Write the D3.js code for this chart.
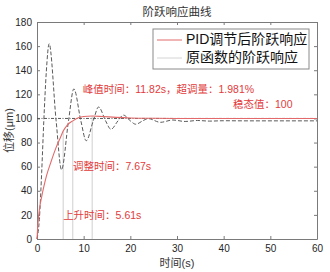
<!DOCTYPE html>
<html>
<head>
<meta charset="utf-8">
<script src="https://cdn.jsdelivr.net/npm/d3@7"></script>
<style>
  body { margin: 0; background: #fff; }
  text { font-family: "Liberation Sans", "Noto Sans CJK SC", sans-serif; }
</style>
</head>
<body>
<div id="container"></div>
<script>
const width = 330,
  height = 272,
  margin = { top: 22, bottom: 33, left: 37, right: 13 };

/** -------------- DATA -------------- */

// PID-tuned step response (red)
const pidTime  = [0, 0.15, 0.5, 1, 1.5, 2, 3, 4, 5, 5.61, 6.5, 7.67, 9, 10, 11.82, 14, 17, 20, 25, 30, 60];
const pidValue = [0, 10, 24, 35, 44, 52, 64, 75, 84, 89.5, 94.5, 98, 100.8, 101.6, 101.98, 101.6, 100.9, 100.4, 100.1, 100, 100];

// original step response (grey dashed)
const rawTime  = [0, 0.5, 1, 1.46, 2, 2.6, 4.1, 5.25, 6.75, 7.9, 9.4, 10.55, 12.05, 13.2, 14.7, 15.85,
                  17.35, 18.5, 20, 21.15, 22.65, 23.8, 26.45, 29.1, 31.75, 34.4, 37, 40, 45, 60];
const rawValue = [0, 16, 55, 98, 139, 162, 98, 57.5, 98, 124.5, 98, 81.5, 98, 109.5, 98, 91,
                  98, 102.8, 98, 95.2, 98, 99.9, 96.8, 98.7, 97.5, 98.3, 97.8, 98.1, 98, 98];

const steadyValue = 100;

// markers: rise time, settling time, peak time
const markTime  = [5.61, 7.67, 11.82];
const markValue = [89.5, 98, 101.98];

const xTicks = [0, 10, 20, 30, 40, 50, 60];
const yTicks = [0, 20, 40, 60, 80, 100, 120, 140, 160, 180];

const legendLabels = ["PID调节后阶跃响应", "原函数的阶跃响应"];
const notes = [
  { text: "峰值时间：11.82s，超调量：1.981%", t: 9.8, v: 123 },
  { text: "稳态值：100", t: 42, v: 111 },
  { text: "调整时间：7.67s", t: 7.7, v: 59.5 },
  { text: "上升时间：5.61s", t: 5.6, v: 19 }
];

/** -------------- SCALES -------------- */

const x = d3.scaleLinear([0, 60], [margin.left, width - margin.right]);
const y = d3.scaleLinear([0, 180], [height - margin.bottom, margin.top]);

const svg = d3.select("#container")
  .append("svg")
  .attr("width", width)
  .attr("height", height);

/** -------------- AXES -------------- */

const axisColor = "#7a7a7a";
const tickText = "#262626";

svg.append("g")
    .attr("transform", `translate(0,${y(0)})`)
    .call(d3.axisBottom(x).tickValues(xTicks).tickSizeInner(-3).tickSizeOuter(0).tickPadding(6))
    .call(g => g.selectAll("text").attr("font-size", 10).attr("fill", tickText));

svg.append("g")
    .attr("transform", `translate(0,${y(180)})`)
    .call(d3.axisTop(x).tickValues(xTicks).tickSizeInner(-3).tickSizeOuter(0).tickFormat(""));

svg.append("g")
    .attr("transform", `translate(${x(0)},0)`)
    .call(d3.axisLeft(y).tickValues(yTicks).tickSizeInner(-3).tickSizeOuter(0).tickPadding(5))
    .call(g => g.selectAll("text").attr("font-size", 10).attr("fill", tickText));

svg.append("g")
    .attr("transform", `translate(${x(60)},0)`)
    .call(d3.axisRight(y).tickValues(yTicks).tickSizeInner(-3).tickSizeOuter(0).tickFormat(""));

svg.selectAll(".domain, .tick line").attr("stroke", axisColor);

svg.append("text")
    .attr("x", (x(0) + x(60)) / 2)
    .attr("y", 13)
    .attr("text-anchor", "middle")
    .attr("dominant-baseline", "middle")
    .attr("font-size", 11.5)
    .attr("fill", "#333")
    .text("阶跃响应曲线");

svg.append("text")
    .attr("x", (x(0) + x(60)) / 2)
    .attr("y", 264)
    .attr("text-anchor", "middle")
    .attr("dominant-baseline", "middle")
    .attr("font-size", 11)
    .attr("fill", "#333")
    .text("时间(s)");

svg.append("text")
    .attr("transform", `translate(10,${(y(0) + y(180)) / 2}) rotate(-90)`)
    .attr("text-anchor", "middle")
    .attr("dominant-baseline", "middle")
    .attr("font-size", 11)
    .attr("fill", "#333")
    .text("位移(μm)");

/** -------------- LINES -------------- */

const line = d3.line()
    .x(d => x(d[0]))
    .y(d => y(d[1]))
    .curve(d3.curveMonotoneX);

// marker verticals
svg.selectAll(".mark")
    .data(d3.zip(markTime, markValue))
  .join("line")
    .attr("x1", d => x(d[0]))
    .attr("x2", d => x(d[0]))
    .attr("y1", y(0))
    .attr("y2", d => y(d[1]))
    .attr("stroke", "#cfcfcf")
    .attr("stroke-width", 1);

svg.append("path")
    .datum(d3.zip(rawTime, rawValue))
    .attr("fill", "none")
    .attr("stroke", "#5a5a5a")
    .attr("stroke-width", 1)
    .attr("stroke-dasharray", "4,2")
    .attr("d", line);

svg.append("line")
    .attr("x1", x(0))
    .attr("x2", x(60))
    .attr("y1", y(steadyValue))
    .attr("y2", y(steadyValue))
    .attr("stroke", "#555")
    .attr("stroke-width", 1)
    .attr("stroke-dasharray", "3,1.5,1,1.5");

svg.append("path")
    .datum(d3.zip(pidTime, pidValue))
    .attr("fill", "none")
    .attr("stroke", "#e26a6a")
    .attr("stroke-width", 1.1)
    .attr("d", line);

/** -------------- ANNOTATIONS -------------- */

svg.selectAll(".note")
    .data(notes)
  .join("text")
    .attr("x", d => x(d.t))
    .attr("y", d => y(d.v))
    .attr("dominant-baseline", "middle")
    .attr("font-size", 10.5)
    .attr("fill", "#e23b3b")
    .text(d => d.text);

/** -------------- LEGEND -------------- */

const legend = svg.append("g").attr("transform", "translate(153,29)");

legend.append("rect")
    .attr("width", 156)
    .attr("height", 40)
    .attr("fill", "#fff")
    .attr("stroke", "#8a8a8a")
    .attr("stroke-width", 1);

const legendColors = ["#e26a6a", "#d4d4d4"];

legend.selectAll(".item")
    .data(legendLabels)
  .join("g")
    .attr("transform", (d, i) => `translate(0,${11 + i * 18})`)
    .each(function (d, i) {
      const g = d3.select(this);
      g.append("line")
          .attr("x1", 4).attr("x2", 29)
          .attr("stroke", legendColors[i])
          .attr("stroke-width", 1);
      g.append("text")
          .attr("x", 33)
          .attr("dominant-baseline", "middle")
          .attr("font-size", 14)
          .attr("fill", "#111")
          .text(d);
    });
</script>
</body>
</html>
